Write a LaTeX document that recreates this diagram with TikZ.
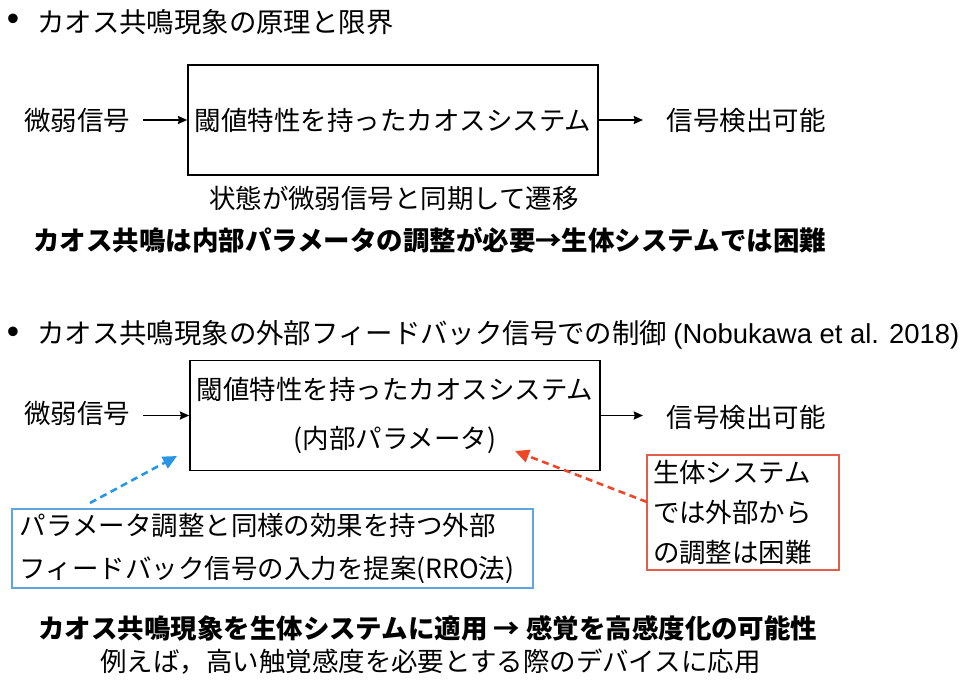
\documentclass[tikz,border=0pt]{standalone}
\usepackage{fontspec}
\setmainfont{Noto Sans CJK JP}
\newfontfamily\lat{Liberation Sans}
\usetikzlibrary{arrows.meta}

\definecolor{fbblue}{RGB}{40,150,230}
\definecolor{boxblue}{RGB}{95,165,225}
\definecolor{fbred}{RGB}{240,70,40}
\definecolor{boxred}{RGB}{225,95,75}

\tikzset{
	txt/.style={font=\fontsize{22.6}{28}\selectfont, inner sep=0pt},
	head/.style={font=\fontsize{23.4}{28}\selectfont, inner sep=0pt},
	sysbox/.style={draw, line width=1.4pt, minimum width=12.3cm, minimum height=3.3cm,
		align=center, font=\fontsize{22.6}{42}\selectfont},
	flow/.style={-{Stealth[length=8pt, width=7pt, inset=1pt]}, line width=1.1pt},
	fb/.style={-{Triangle[length=12pt, width=11pt]}, line width=2.2pt, dash pattern=on 6pt off 4pt}
}

\begin{document}
\begin{tikzpicture}[x=0.03cm, y=-0.03cm]
	\useasboundingbox (0,0) rectangle (975,681);
	
	% --- PHAN 1: NGUYEN LY ---
	\node[head, font=\lat\fontsize{30}{30}\selectfont] (dot1) at (13,22) {•};
	\node[head, anchor=west] (title1) at (37,22) {カオス共鳴現象の原理と限界};
	
	\node[sysbox] (sys1) at (393,120) {閾値特性を持ったカオスシステム};
	\node[txt, inner xsep=11pt] (in1) at (77,120) {微弱信号};
	\node[txt, inner xsep=20pt, anchor=west] (out1) at (643,120) {信号検出可能};
	\draw[flow] (in1) -- (sys1);
	\draw[flow] (sys1) -- (out1);
	
	\node[txt] (sync) at (394,198) {状態が微弱信号と同期して遷移};
	\node[txt, font=\bfseries\fontsize{22.6}{28}\selectfont, anchor=west] (limit) at (33,240)
		{カオス共鳴は内部パラメータの調整が必要→生体システムでは困難};
	
	% --- PHAN 2: DIEU KHIEN NGOAI ---
	\node[head, font=\lat\fontsize{30}{30}\selectfont] (dot2) at (13,335) {•};
	\node[head, anchor=west] (title2) at (37,335)
		{カオス共鳴現象の外部フィードバック信号での制御 {\lat (Nobukawa et al. 2018)}};
	
	\node[sysbox] (sys2) at (395,415.5) {閾値特性を持ったカオスシステム\\({\lat }内部パラメータ)};
	\node[txt, inner xsep=11pt] (in2) at (77,413) {微弱信号};
	\node[txt, inner xsep=20pt, anchor=west] (out2) at (643,417) {信号検出可能};
	\draw[flow] (in2.east |- sys2) -- (sys2);
	\draw[flow] (sys2) -- (out2.west |- sys2);
	
	% hop ghi chu xanh va do
	\node[draw=boxblue, line width=0.9pt, text width=15.15cm, minimum height=2.37cm,
		inner xsep=0.24cm, align=left, font=\fontsize{22.6}{36}\selectfont] (rro) at (272.5,548.5)
		{パラメータ調整と同様の効果を持つ外部\\フィードバック信号の入力を提案(RRO法)};
	\node[draw=boxred, line width=0.9pt, text width=5.4cm, minimum height=3.45cm,
		inner xsep=0.18cm, align=left, font=\fontsize{22.6}{34}\selectfont] (bio) at (743,512.5)
		{生体システム\\では外部から\\の調整は困難};
	
	% mui ten dut net
	\coordinate (fbb) at (90,503);
	\coordinate (fbbtip) at (177,456);
	\coordinate (fbr) at (647,502);
	\coordinate (fbrtip) at (515,451);
	\draw[fb, fbblue] (fbb) -- (fbbtip);
	\draw[fb, fbred] (fbr) -- (fbrtip);
	
	% --- KET LUAN ---
	\node[txt, font=\bfseries\fontsize{22.6}{28}\selectfont, anchor=west] (apply) at (38,628)
		{カオス共鳴現象を生体システムに適用 → 感覚を高感度化の可能性};
	\node[txt, anchor=west] (example) at (100,662)
		{例えば，高い触覚感度を必要とする際のデバイスに応用};
\end{tikzpicture}
\end{document}
